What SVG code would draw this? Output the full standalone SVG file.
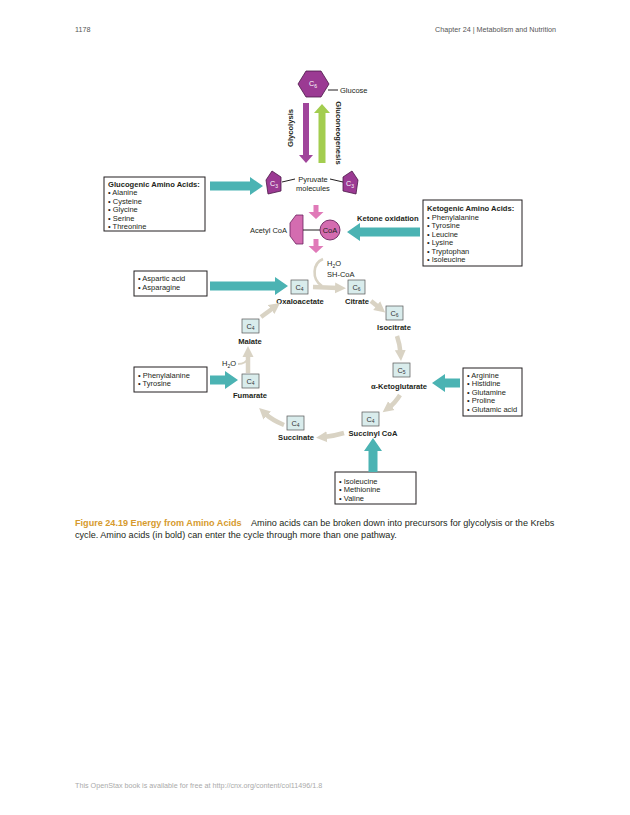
<svg xmlns="http://www.w3.org/2000/svg" width="630" height="815" viewBox="0 0 630 815">
<defs>
<style>
text{font-family:"Liberation Sans",Arial,sans-serif;fill:#231f20}
.t{font-size:7.5px}
.b{font-size:7.6px;font-weight:bold}
.c{font-size:7.3px;fill:#333}
.w{font-size:7.2px;fill:#fff}
.box{fill:#fff;stroke:#231f20;stroke-width:1}
.cb{fill:#d9ecec;stroke:#555;stroke-width:0.7}
.teal{fill:#4bb3b3}
.cyc{fill:none;stroke:#d9d3c4;stroke-width:4.5;marker-end:url(#bh)}
.thin{fill:none;stroke:#d9d3c4;stroke-width:2.6}
.ln{stroke:#231f20;stroke-width:1;fill:none}
.hex{fill:#9b3a93;stroke:#4a1846;stroke-width:0.8}
.pk{fill:#e07ab8}
</style>
<marker id="bh" markerUnits="userSpaceOnUse" markerWidth="12" markerHeight="12" refX="3" refY="6" orient="auto" viewBox="0 0 12 12"><path d="M0,0.5 L11,6 L0,11.5 z" fill="#d9d3c4"/></marker>
</defs>
<rect width="630" height="815" fill="#fff"/>

<g id="header">
<text x="75" y="32" style="font-size:7.2px;fill:#555">1178</text>
<text x="556" y="32" text-anchor="end" style="font-size:7.2px;fill:#555">Chapter 24 | Metabolism and Nutrition</text>
</g>

<g id="glucose">
<polygon class="hex" points="298,84 306,71 321,71 329,84 321,97 306,97"/>
<text class="w" x="313" y="86" text-anchor="middle">C<tspan dy="1.5" font-size="5px">6</tspan></text>
<line class="ln" x1="328" y1="90" x2="338" y2="90"/>
<text class="t" x="340" y="93">Glucose</text>
</g>

<g id="glycolysis">
<polygon fill="#a0459b" points="303,103 309,103 309,155 313,155 306,163 299,155 303,155"/>
<text class="b" transform="translate(293,128) rotate(-90)" text-anchor="middle">Glycolysis</text>
</g>

<g id="gluconeogenesis">
<polygon fill="#a3cd4f" points="318.5,163 325.5,163 325.5,113 330,113 322,104 314,113 318.5,113"/>
<text class="b" transform="translate(336,133) rotate(90)" text-anchor="middle">Gluconeogenesis</text>
</g>

<g id="pyruvate">
<polygon class="hex" points="266,180 272,171 281,177 281,191 268,194"/>
<text class="w" x="274" y="186" text-anchor="middle">C<tspan dy="1.5" font-size="5px">3</tspan></text>
<polygon class="hex" points="358,180 352,171 343,177 343,191 356,194"/>
<text class="w" x="350" y="186" text-anchor="middle">C<tspan dy="1.5" font-size="5px">3</tspan></text>
<line class="ln" x1="282" y1="182" x2="295" y2="179"/>
<line class="ln" x1="330" y1="179" x2="343" y2="182"/>
<text class="t" x="313" y="182" text-anchor="middle">Pyruvate</text>
<text class="t" x="313" y="191" text-anchor="middle">molecules</text>
</g>

<g id="glucogenic">
<rect class="box" x="104" y="177" width="101" height="54"/>
<text class="b" x="108" y="186.5">Glucogenic Amino Acids:</text>
<text class="t" x="108" y="195">• Alanine</text>
<text class="t" x="108" y="203.5">• Cysteine</text>
<text class="t" x="108" y="212">• Glycine</text>
<text class="t" x="108" y="220.5">• Serine</text>
<text class="t" x="108" y="229">• Threonine</text>
</g>

<g id="acetylcoa">
<polygon class="pk" points="313.5,205 318.5,205 318.5,212 323.5,212 316,219 308.5,212 313.5,212"/>
<polygon fill="#d46cb0" stroke="#6b2260" stroke-width="0.8" points="296,215 303,215 303,244 296,244 290,236 290,223"/>
<line class="ln" x1="303" y1="230" x2="320" y2="230"/>
<circle cx="330" cy="230" r="10" fill="#d46cb0" stroke="#6b2260" stroke-width="0.9"/>
<text class="t" x="330" y="232.5" text-anchor="middle">CoA</text>
<text class="t" x="287" y="233" text-anchor="end">Acetyl CoA</text>
<polygon class="pk" points="313.5,239 318.5,239 318.5,246 323.5,246 316,253 308.5,246 313.5,246"/>
</g>

<g id="ketogenic">
<text class="b" x="357" y="221">Ketone oxidation</text>
<rect class="box" x="423" y="200" width="99" height="66"/>
<text class="b" x="427" y="211">Ketogenic Amino Acids:</text>
<text class="t" x="427" y="219.5">• Phenylalanine</text>
<text class="t" x="427" y="228">• Tyrosine</text>
<text class="t" x="427" y="236.5">• Leucine</text>
<text class="t" x="427" y="245">• Lysine</text>
<text class="t" x="427" y="253.5">• Tryptophan</text>
<text class="t" x="427" y="262">• Isoleucine</text>
</g>

<g id="aspartic">
<rect class="box" x="134" y="271" width="73" height="25"/>
<text class="t" x="138" y="281">• Aspartic acid</text>
<text class="t" x="138" y="289.5">• Asparagine</text>
</g>

<g id="phenyl">
<rect class="box" x="134" y="367" width="73" height="25"/>
<text class="t" x="138" y="377.5">• Phenylalanine</text>
<text class="t" x="138" y="386">• Tyrosine</text>
</g>

<g id="arginine">
<rect class="box" x="463" y="368" width="59" height="48"/>
<text class="t" x="467" y="377.5">• Arginine</text>
<text class="t" x="467" y="386">• Histidine</text>
<text class="t" x="467" y="394.5">• Glutamine</text>
<text class="t" x="467" y="403">• Proline</text>
<text class="t" x="467" y="411.5">• Glutamic acid</text>
</g>

<g id="isoleucine">
<rect class="box" x="335" y="472" width="81" height="32"/>
<text class="t" x="339" y="483.5">• Isoleucine</text>
<text class="t" x="339" y="492">• Methionine</text>
<text class="t" x="339" y="500.5">• Valine</text>
</g>

<g id="oxaloacetate">
<rect class="cb" x="291" y="280" width="17" height="14"/>
<text class="c" x="299.5" y="289.5" text-anchor="middle">C<tspan dy="1.5" font-size="5px">4</tspan></text>
<text class="b" x="300" y="304" text-anchor="middle">Oxaloacetate</text>
</g>
<g id="citrate">
<rect class="cb" x="348" y="280" width="17" height="14"/>
<text class="c" x="356.5" y="289.5" text-anchor="middle">C<tspan dy="1.5" font-size="5px">6</tspan></text>
<text class="b" x="357" y="304" text-anchor="middle">Citrate</text>
</g>
<g id="isocitrate">
<rect class="cb" x="386" y="306" width="17" height="14"/>
<text class="c" x="394.5" y="315.5" text-anchor="middle">C<tspan dy="1.5" font-size="5px">6</tspan></text>
<text class="b" x="394" y="330" text-anchor="middle">Isocitrate</text>
</g>
<g id="ketoglutarate">
<rect class="cb" x="393" y="363" width="17" height="14"/>
<text class="c" x="401.5" y="372.5" text-anchor="middle">C<tspan dy="1.5" font-size="5px">5</tspan></text>
<text class="b" x="399" y="389" text-anchor="middle">α-Ketoglutarate</text>
</g>
<g id="succinylcoa">
<rect class="cb" x="362" y="412" width="17" height="14"/>
<text class="c" x="370.5" y="421.5" text-anchor="middle">C<tspan dy="1.5" font-size="5px">4</tspan></text>
<text class="b" x="373" y="436" text-anchor="middle">Succinyl CoA</text>
</g>
<g id="succinate">
<rect class="cb" x="287" y="416" width="17" height="14"/>
<text class="c" x="295.5" y="425.5" text-anchor="middle">C<tspan dy="1.5" font-size="5px">4</tspan></text>
<text class="b" x="296" y="440" text-anchor="middle">Succinate</text>
</g>
<g id="fumarate">
<rect class="cb" x="242" y="374" width="17" height="14"/>
<text class="c" x="250.5" y="383.5" text-anchor="middle">C<tspan dy="1.5" font-size="5px">4</tspan></text>
<text class="b" x="250" y="398" text-anchor="middle">Fumarate</text>
</g>
<g id="malate">
<rect class="cb" x="242" y="319" width="17" height="14"/>
<text class="c" x="250.5" y="328.5" text-anchor="middle">C<tspan dy="1.5" font-size="5px">4</tspan></text>
<text class="b" x="250" y="344" text-anchor="middle">Malate</text>
</g>

<g id="connectors">
<polygon class="teal" points="210,181.5 250,181.5 250,177 263,186 250,195 250,190.5 210,190.5"/>
<polygon class="teal" points="420,227.5 360,227.5 360,223 347,232 360,241 360,236.5 420,236.5"/>
<polygon class="teal" points="210,281.5 275,281.5 275,277 288,286 275,295 275,290.5 210,290.5"/>
<polygon class="teal" points="210,375.5 225,375.5 225,371 238,380 225,389 225,384.5 210,384.5"/>
<polygon class="teal" points="460,378.5 445,378.5 445,374 432,383 445,392 445,387.5 460,387.5"/>
<polygon class="teal" points="368.5,472 368.5,451 364,451 373,438 382,451 377.5,451 377.5,472"/>
<path class="thin" d="M323,259 C313,263 311,279 322,286"/>
<path class="cyc" d="M313,287 L338,288"/>
<path class="cyc" d="M371,301 L379,307.5"/>
<path class="cyc" d="M397,336 Q400,345 400.5,353"/>
<path class="cyc" d="M400,395 Q395,403 389,407.5"/>
<path class="cyc" d="M344,433 Q334,436 324,437"/>
<path class="cyc" d="M284,425 Q272,420 265,413.5"/>
<path class="cyc" d="M248,373 L248,354"/>
<path class="thin" style="stroke-width:2" d="M238,364 Q246,364 248,358"/>
<path class="cyc" d="M261,317 L273.6,307.7"/>
</g>

<g id="cycle-labels">
<text class="t" x="327" y="266">H<tspan dy="1.5" font-size="5px">2</tspan><tspan dy="-1.5">O</tspan></text>
<text class="t" x="327" y="277">SH-CoA</text>
<text class="t" x="222" y="366">H<tspan dy="1.5" font-size="5px">2</tspan><tspan dy="-1.5">O</tspan></text>
</g>

<g id="caption">
<text x="75" y="525.5" style="font-size:9.1px"><tspan style="font-weight:bold;fill:#d69a2d">Figure 24.19 Energy from Amino Acids</tspan><tspan x="251">Amino acids can be broken down into precursors for glycolysis or the Krebs</tspan></text>
<text x="75" y="537.5" style="font-size:9.1px">cycle. Amino acids (in bold) can enter the cycle through more than one pathway.</text>
</g>

<g id="footer">
<text x="75" y="788" style="font-size:7.2px;fill:#aaa">This OpenStax book is available for free at http://cnx.org/content/col11496/1.8</text>
</g>
</svg>
